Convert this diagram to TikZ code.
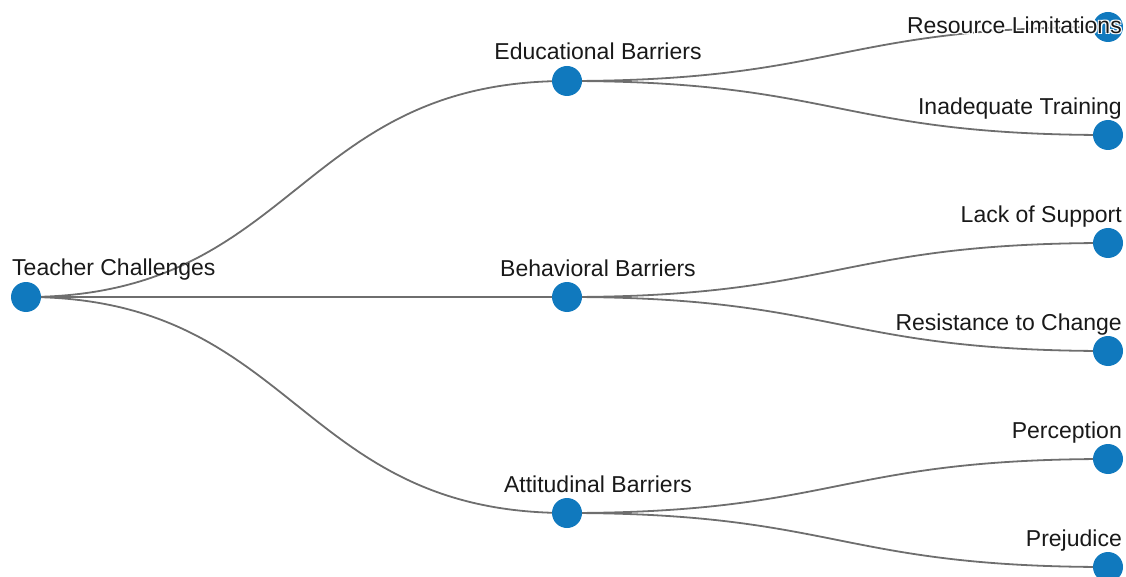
\documentclass[tikz,border=0pt]{standalone}
\usepackage{fontspec}
\setmainfont{Liberation Sans}
\definecolor{nodeblue}{RGB}{16,121,190}
\definecolor{linkgray}{RGB}{110,110,110}
\newcommand\hcopy[3]{\rlap{\hspace*{#1}\raisebox{#2}{\color{white}#3}}}
\newcommand\halo[1]{\hcopy{1.2pt}{1.2pt}{#1}\hcopy{-1.2pt}{1.2pt}{#1}\hcopy{1.2pt}{-1.2pt}{#1}\hcopy{-1.2pt}{-1.2pt}{#1}#1}
\tikzset{
  dot/.style={circle, fill=nodeblue, inner sep=0pt, minimum size=30pt},
  lbl/.style={inner sep=0pt, font=\fontsize{23pt}{27pt}\selectfont, text=black!90},
  link/.style={draw=linkgray, line width=1.8pt},
}
\begin{document}
\begin{tikzpicture}[x=1pt,y=-1pt]
\useasboundingbox (0,0) rectangle (1126,577);
% node positions
\coordinate (r) at (26,297);
\coordinate (e) at (567,81);
\coordinate (b) at (567,297);
\coordinate (a) at (567,513);
\coordinate (e1) at (1108,27);
\coordinate (e2) at (1108,135);
\coordinate (b1) at (1108,243);
\coordinate (b2) at (1108,351);
\coordinate (a1) at (1108,459);
\coordinate (a2) at (1108,567);
% links
\draw[link] (r) .. controls (296.5,297) and (296.5,81) .. (e);
\draw[link] (r) .. controls (296.5,297) and (296.5,297) .. (b);
\draw[link] (r) .. controls (296.5,297) and (296.5,513) .. (a);
\draw[link] (e) .. controls (837.5,81) and (837.5,27) .. (e1);
\draw[link] (e) .. controls (837.5,81) and (837.5,135) .. (e2);
\draw[link] (b) .. controls (837.5,297) and (837.5,243) .. (b1);
\draw[link] (b) .. controls (837.5,297) and (837.5,351) .. (b2);
\draw[link] (a) .. controls (837.5,513) and (837.5,459) .. (a1);
\draw[link] (a) .. controls (837.5,513) and (837.5,567) .. (a2);
% circles
\foreach \n in {r,e,b,a,e1,e2,b1,b2,a1,a2} \node[dot] (c\n) at (\n) {};
% labels
\node[lbl, anchor=base west] (tr) at (12,275.5) {Teacher Challenges};
\node[lbl, anchor=base] (te) at (598,59.5) {Educational Barriers};
\node[lbl, anchor=base] (tb) at (598,276.5) {Behavioral Barriers};
\node[lbl, anchor=base] (ta) at (598,492) {Attitudinal Barriers};
\node[lbl, anchor=base east] (te1) at (1122,33.5) {\halo{Resource Limitations}};
\node[lbl, anchor=base east] (te2) at (1122,114.5) {Inadequate Training};
\node[lbl, anchor=base east] (tb1) at (1122,222.5) {Lack of Support};
\node[lbl, anchor=base east] (tb2) at (1122,330) {Resistance to Change};
\node[lbl, anchor=base east] (ta1) at (1122,438.5) {Perception};
\node[lbl, anchor=base east] (ta2) at (1122,546) {Prejudice};
\end{tikzpicture}
\end{document}
